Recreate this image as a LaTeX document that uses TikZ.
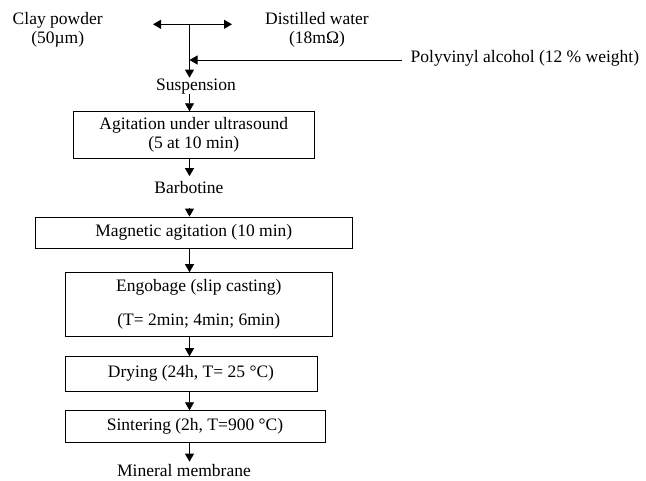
\documentclass[tikz,border=0pt]{standalone}
\usepackage{fontspec}
\setmainfont{Liberation Serif}
\usepackage{tikz}
\usetikzlibrary{arrows.meta}
\tikzset{
	stage/.style={draw, line width=0.9pt, align=center, inner sep=0pt},
	txt/.style={align=center, inner sep=0pt},
	flow/.style={line width=0.9pt, -{Triangle[length=8pt, width=9pt]}},
}

\begin{document}
\begin{tikzpicture}[x=1pt, y=-1pt, font=\fontsize{17.5}{19}\selectfont]
	\useasboundingbox (0, 0) rectangle (646, 480);
	\coordinate (J) at (189.5, 24.3);
	\coordinate (L) at (153, 24.3);
	\coordinate (R) at (232, 24.3);
	\node[txt] (clay) at (57.7, 29.5) {Clay powder\\(50µm)};
	\node[txt] (water) at (317, 29.5) {Distilled water\\(18mΩ)};
	\node[txt, anchor=west, inner xsep=9pt] (pva) at (401.5, 58.5) {Polyvinyl alcohol (12 \% weight)};
	\node[txt] (susp) at (196, 86.5) {Suspension};
	\node[stage, minimum width=240.7, minimum height=46.6] (box1) at (193.7, 135) {Agitation under ultrasound\\(5 at 10 min)};
	\node[txt] (barb) at (189, 187.5) {Barbotine};
	\node[stage, minimum width=317.7, minimum height=31] (box2) at (193.8, 232.5) {Magnetic agitation (10 min)};
	\node[stage, minimum width=267.7, minimum height=63.3] (box3) at (198.8, 304.3) {Engobage (slip casting)\\[15pt](T= 2min; 4min; 6min)};
	\node[stage, minimum width=252, minimum height=34.3] (box4) at (191, 373.8) {Drying (24h, T= 25 °C)};
	\node[stage, minimum width=260, minimum height=32] (box5) at (195, 426.7) {Sintering (2h, T=900 °C)};
	\node[txt] (mem) at (184, 471) {Mineral membrane};
	\draw[flow] (J) -- (L);
	\draw[flow] (J) -- (R);
	\draw[flow] (J) -- ([yshift=1pt]susp.north -| J);
	\draw[flow] ([yshift=-1.5pt]pva.west) -- ([yshift=-1.5pt]pva.west -| J);
	\draw[flow] (susp.south -| J) -- (box1.north -| J);
	\draw[flow] (box1.south -| J) -- ([yshift=5pt]barb.north -| J);
	\draw[flow] ([yshift=-14pt]barb.south -| J) -- (box2.north -| J);
	\draw[flow] (box2.south -| J) -- (box3.north -| J);
	\draw[flow] (box3.south -| J) -- (box4.north -| J);
	\draw[flow] (box4.south -| J) -- (box5.north -| J);
	\draw[flow] (box5.south -| J) -- ([yshift=3pt]mem.north -| J);
\end{tikzpicture}
\end{document}
